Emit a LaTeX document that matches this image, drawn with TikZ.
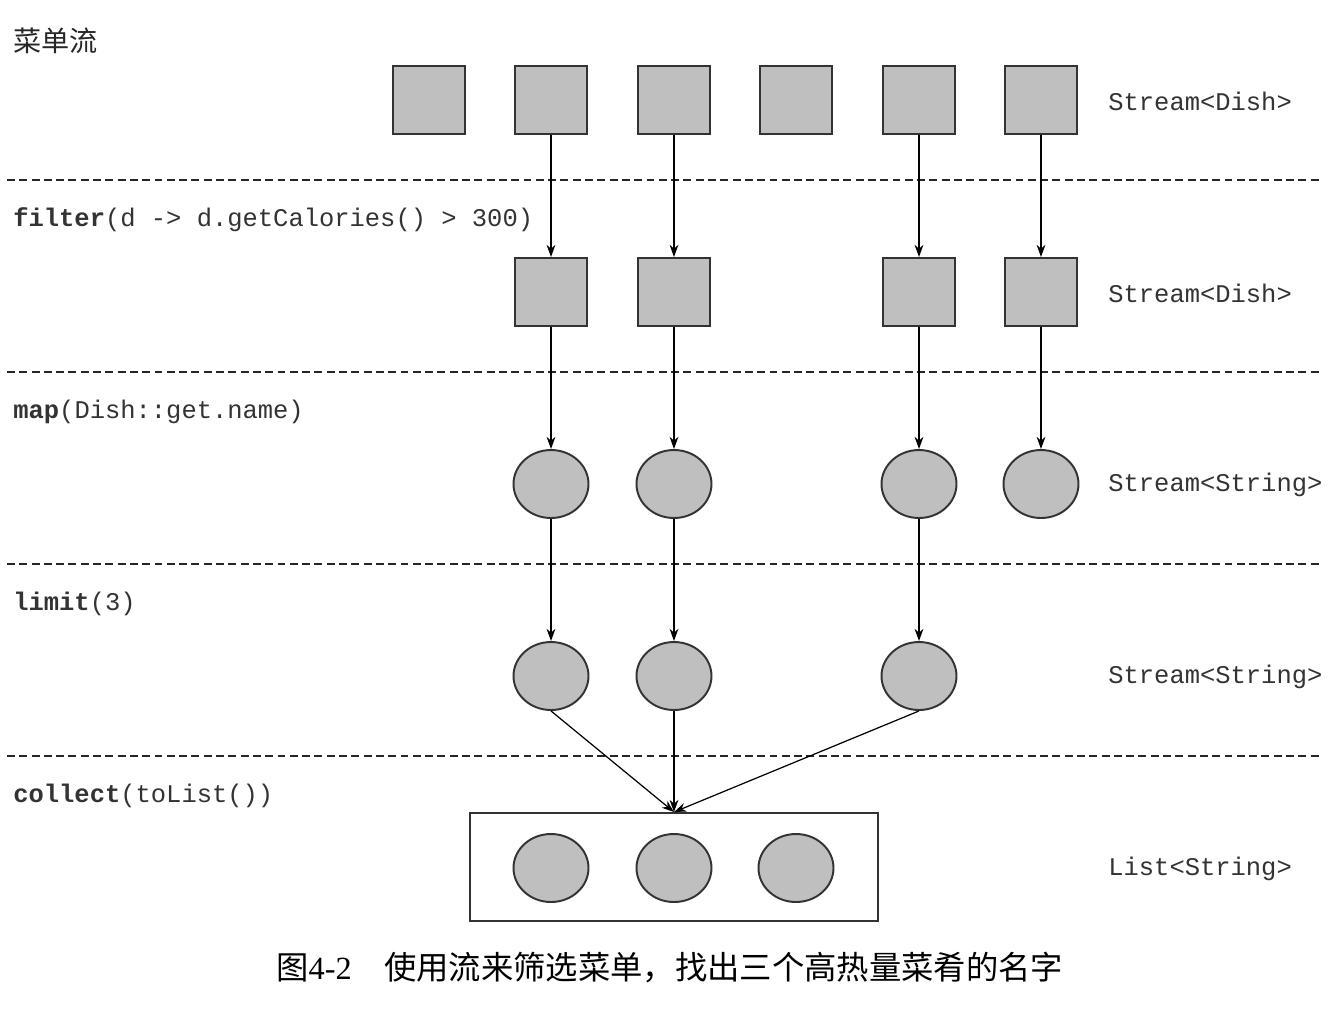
\documentclass[tikz,border=0pt]{standalone}
\usepackage{fontspec}
\setmainfont{Liberation Serif}
\setmonofont{Liberation Mono}
\newfontfamily\cjk{Noto Sans CJK SC}
\usetikzlibrary{shapes.geometric,arrows.meta}
\begin{document}
\begin{tikzpicture}[x=0.02cm,y=-0.02cm,
  sq/.style={draw=black!80,line width=1.1pt,fill=gray!50!white,minimum width=1.44cm,minimum height=1.36cm,inner sep=0pt},
  el/.style={ellipse,draw=black!80,line width=1.1pt,fill=gray!50!white,minimum width=1.5cm,minimum height=1.36cm,inner sep=0pt},
  sep/.style={dashed,dash pattern=on 4.5pt off 2.5pt,line width=0.7pt,black!85},
  arr/.style={-{Stealth[length=7pt,width=5pt]},line width=0.7pt,black},
  code/.style={anchor=west,font=\ttfamily\fontsize{14.5}{16}\selectfont,text=black!80,inner sep=0pt},
  typ/.style={anchor=west,font=\ttfamily\fontsize{14.5}{16}\selectfont,text=black!80,inner sep=0pt}]
\useasboundingbox (0,0) rectangle (1338,1008);
% separators
\foreach \yy/\nm in {180/s1,372/s2,564/s3,756/s4}{
  \coordinate (\nm a) at (7,\yy); \coordinate (\nm b) at (1320,\yy);
  \draw[sep] (\nm a) -- (\nm b);}
% labels
\node[anchor=west,inner sep=0pt,font=\cjk\fontsize{16}{18}\selectfont,text=black!85] (title) at (13,41) {菜单流};
\node[code] (lf) at (13,220) {\textbf{filter}(d -> d.getCalories() > 300)};
\node[code] (lm) at (13,412) {\textbf{map}(Dish::get.name)};
\node[code] (ll) at (13,604) {\textbf{limit}(3)};
\node[code] (lc) at (13,796) {\textbf{collect}(toList())};
\node[typ] (t1) at (1108,101) {Stream<Dish>};
\node[typ] (t2) at (1108,293) {Stream<Dish>};
\node[typ] (t3) at (1108,485) {Stream<String>};
\node[typ] (t4) at (1108,677) {Stream<String>};
\node[typ] (t5) at (1108,869) {List<String>};
% row 1
\node[sq] (a1) at (429,100) {};
\node[sq] (a2) at (551,100) {};
\node[sq] (a3) at (674,100) {};
\node[sq] (a4) at (796,100) {};
\node[sq] (a5) at (919,100) {};
\node[sq] (a6) at (1041,100) {};
% row 2
\node[sq] (b2) at (551,292) {};
\node[sq] (b3) at (674,292) {};
\node[sq] (b5) at (919,292) {};
\node[sq] (b6) at (1041,292) {};
% row 3
\node[el] (c2) at (551,484) {};
\node[el] (c3) at (674,484) {};
\node[el] (c5) at (919,484) {};
\node[el] (c6) at (1041,484) {};
% row 4
\node[el] (d2) at (551,676) {};
\node[el] (d3) at (674,676) {};
\node[el] (d5) at (919,676) {};
% row 5
\node[draw=black!80,line width=1.1pt,minimum width=8.16cm,minimum height=2.16cm,inner sep=0pt] (box) at (674,867) {};
\node[el] (e1) at (551,868) {};
\node[el] (e2) at (674,868) {};
\node[el] (e3) at (796,868) {};
% arrows
\foreach \p/\q in {a2/b2,a3/b3,a5/b5,a6/b6,b2/c2,b3/c3,b5/c5,b6/c6,c2/d2,c3/d3,c5/d5}
  \draw[arr] (\p.south) -- (\q.north);
\draw[arr] (d2.south) -- (box.north);
\draw[arr] (d3.south) -- (box.north);
\draw[arr] (d5.south) -- (box.north);
% caption
\node[anchor=west,inner sep=0pt,font=\fontsize{18.4}{20}\selectfont] (cap) at (276,968) {{\cjk 图}4-2\hspace{1em}{\cjk 使用流来筛选菜单，找出三个高热量菜肴的名字}};
\end{tikzpicture}
\end{document}
